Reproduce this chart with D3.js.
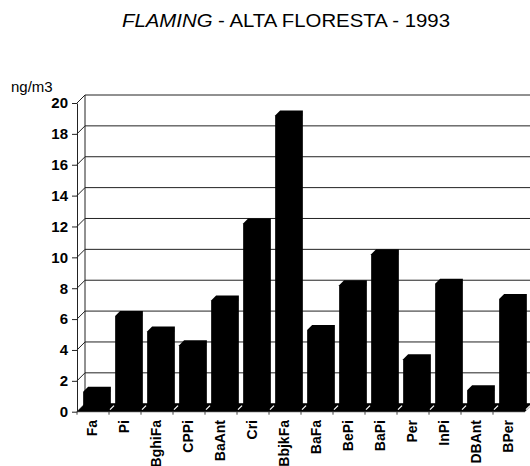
<!DOCTYPE html>
<html><head><meta charset="utf-8">
<script src="https://cdn.jsdelivr.net/npm/d3@7/dist/d3.min.js"></script>
<style>body{margin:0;background:#fff}svg{display:block}</style>
</head><body><svg id="c" width="530" height="466"></svg>
<script>
const categories = ["Fa","Pi","BghiFa","CPPi","BaAnt","Cri","BbjkFa","BaFa","BePi","BaPi","Per","InPi","DBAnt","BPer"];
const values = [1.2,6.1,5.1,4.2,7.1,12.1,19.1,5.2,8.1,10.1,3.3,8.2,1.3,7.2];
const yTicks = [0,2,4,6,8,10,12,14,16,18,20];
const titleItalic = "FLAMING";
const titleRest = " - ALTA FLORESTA - 1993";
const unitLabel = "ng/m3";

const svg = d3.select("#c");
const font = "'Liberation Sans', Arial, sans-serif";
const x = d3.scaleBand().domain(categories).range([77, 525]);
const y = d3.scaleLinear().domain([0, 20]).range([411.7, 103]);
const D = 8, zf = 1.5, zb = 6.5, barW = 22.7;
const x0 = x.range()[0], x1 = x.range()[1];
const yb = y(0);

// back wall gridlines
const g = svg.append("g").attr("stroke", "#222").attr("stroke-width", 1).attr("fill", "none");
yTicks.forEach(t => {
  g.append("line").attr("x1", x0 + D).attr("x2", x1 + D + 10).attr("y1", y(t) - D).attr("y2", y(t) - D);
  g.append("line").attr("x1", x0).attr("x2", x0 + D).attr("y1", y(t)).attr("y2", y(t) - D);
});
g.append("line").attr("x1", x0 + D).attr("x2", x0 + D).attr("y1", y(0) - D).attr("y2", y(20) - D);

// floor
svg.append("path").attr("fill", "#000")
  .attr("d", `M${x0},${yb} L${x0 + D},${yb - D} L${x1 + D},${yb - D} L${x1},${yb} Z`);
const fl = svg.append("g").attr("stroke", "#fff").attr("stroke-width", 1.2);
categories.forEach(c => {
  const b = x(c) + x.bandwidth();
  fl.append("line").attr("x1", b + 1).attr("y1", yb - 2).attr("x2", b + 5).attr("y2", yb - 6);
});

// bars
svg.append("g").selectAll("path").data(categories).join("path")
  .attr("fill", "#000")
  .attr("d", (c, i) => {
    const cx = x(c) + x.bandwidth() / 2;
    const l = cx - barW / 2, r = cx + barW / 2;
    const yt = y(values[i]);
    return `M${l + zf},${yb - zf} L${l + zf},${yt - zf} L${l + zb},${yt - zb} L${r + zb},${yt - zb} L${r + zb},${yb - zb} L${r + zf},${yb - zf} Z`;
  });

// y axis
const ya = svg.append("g").attr("transform", `translate(${x0},0)`)
  .call(d3.axisLeft(y).tickValues(yTicks).tickSize(5).tickSizeOuter(0).tickPadding(4));
ya.select(".domain").attr("stroke", "#222");
ya.selectAll(".tick line").attr("stroke", "#222");
ya.selectAll("text").attr("font-family", font).attr("font-size", 15).attr("font-weight", "bold").attr("fill", "#000");

// x axis
svg.append("line").attr("x1", x0).attr("x2", x1).attr("y1", yb).attr("y2", yb).attr("stroke", "#222");
svg.append("g").attr("stroke", "#444").selectAll("line").data(categories).join("line")
  .attr("x1", c => x(c)).attr("x2", c => x(c)).attr("y1", yb).attr("y2", yb + 3);
svg.append("g").selectAll("text").data(categories).join("text")
  .attr("transform", c => `translate(${x(c) + x.bandwidth() / 2 - 1},420) rotate(-90)`)
  .attr("text-anchor", "end").attr("dy", "0.35em")
  .attr("font-family", font).attr("font-size", 14).attr("font-weight", "bold")
  .text(c => c);

// unit label
svg.append("text").attr("x", 11).attr("y", 92).attr("font-family", font).attr("font-size", 15).text(unitLabel);

// title
const tt = svg.append("text").attr("x", 122).attr("y", 27).attr("font-family", font).attr("font-size", 17.5)
  .attr("textLength", 328).attr("lengthAdjust", "spacingAndGlyphs");
tt.append("tspan").attr("font-style", "italic").text(titleItalic);
tt.append("tspan").text(titleRest);
</script>
</body></html>
